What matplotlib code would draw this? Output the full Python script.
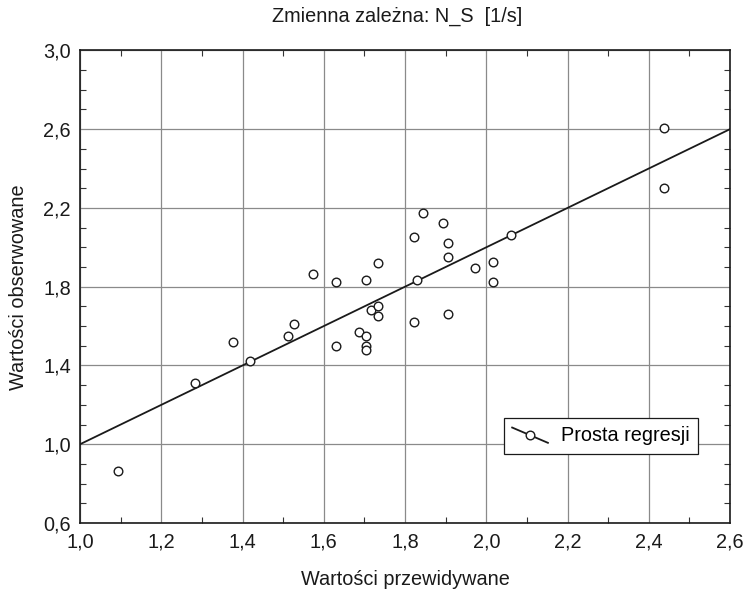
import matplotlib
matplotlib.use("Agg")
import matplotlib.pyplot as plt
from matplotlib.lines import Line2D
from matplotlib.legend_handler import HandlerBase
from matplotlib.ticker import MultipleLocator, FixedLocator, FuncFormatter

plt.rcParams['font.family'] = ['Liberation Sans', 'DejaVu Sans']

predicted = [1.094, 1.283, 1.376, 1.419, 1.512, 1.527, 1.574, 1.630, 1.630,
             1.686, 1.703, 1.703, 1.703, 1.703, 1.716, 1.733, 1.733, 1.733,
             1.822, 1.822, 1.829, 1.844, 1.894, 1.907, 1.907, 1.907, 1.972,
             2.016, 2.016, 2.060, 2.4375, 2.4375]
observed = [0.864, 1.312, 1.521, 1.423, 1.550, 1.613, 1.863, 1.822, 1.501,
            1.572, 1.832, 1.550, 1.501, 1.481, 1.684, 1.922, 1.704, 1.652,
            2.051, 1.621, 1.832, 2.173, 2.122, 2.024, 1.953, 1.662, 1.893,
            1.924, 1.822, 2.064, 2.604, 2.300]
line_x = [1.0, 2.6]
line_y = [1.0, 2.6]
x_ticks = [1.0, 1.2, 1.4, 1.6, 1.8, 2.0, 2.2, 2.4, 2.6]
y_ticks = [0.6, 1.0, 1.4, 1.8, 2.2, 2.6, 3.0]

title = "Zmienna zależna: N_S  [1/s]"
xlabel = "Wartości przewidywane"
ylabel = "Wartości obserwowane"
legend_label = "Prosta regresji"

FS = 14.3

fig = plt.figure(figsize=(7.45, 5.89), dpi=100)
ax = fig.add_axes([0.1074, 0.112, 0.8725, 0.8025])

ax.plot(line_x, line_y, color='#1a1a1a', lw=1.3, zorder=3)
ax.plot(predicted, observed, linestyle='none', marker='o', markersize=6.2,
        markerfacecolor='white', markeredgecolor='#1a1a1a', markeredgewidth=1.0, zorder=4)

ax.set_xlim(1.0, 2.6)
ax.set_ylim(0.6, 3.0)
ax.xaxis.set_major_locator(FixedLocator(x_ticks))
ax.yaxis.set_major_locator(FixedLocator(y_ticks))
ax.xaxis.set_minor_locator(MultipleLocator(0.1))
ax.yaxis.set_minor_locator(MultipleLocator(0.1))
fmt = FuncFormatter(lambda v, p: f"{v:.1f}".replace('.', ','))
ax.xaxis.set_major_formatter(fmt)
ax.yaxis.set_major_formatter(fmt)
ax.grid(True, which='major', color='#8a8a8a', lw=0.9)
ax.set_axisbelow(True)
ax.tick_params(which='major', length=0, labelsize=FS, colors='#1a1a1a')
ax.tick_params(axis='y', which='major', pad=6.5)
ax.tick_params(axis='x', which='major', pad=7)
ax.tick_params(which='minor', direction='in', length=4, width=0.8,
               top=True, right=True, bottom=True, left=True, color='#333333')
for s in ax.spines.values():
    s.set_color('#1a1a1a')
    s.set_linewidth(1.2)

ax.set_xlabel(xlabel, fontsize=FS, labelpad=13, color='#1a1a1a')
ax.set_ylabel(ylabel, fontsize=FS, labelpad=11, color='#1a1a1a')
fig.text(0.5336, 0.9717, title, ha='center', va='center', fontsize=FS, color='#1a1a1a')


class DiagHandler(HandlerBase):
    def create_artists(self, legend, orig_handle, xdescent, ydescent,
                       width, height, fontsize, trans):
        x0, x1 = -xdescent, -xdescent + width
        y0, y1 = -ydescent + height * 1.0, -ydescent - height * 0.1
        ln = Line2D([x0, x1], [y0, y1], color='#1a1a1a', lw=1.3, transform=trans)
        mk = Line2D([(x0 + x1) / 2], [(y0 + y1) / 2], linestyle='none', marker='o',
                    markersize=6.2, markerfacecolor='white', markeredgecolor='#1a1a1a',
                    markeredgewidth=1.0, transform=trans)
        return [ln, mk]


proxy = Line2D([], [])
leg = ax.legend([proxy], [legend_label], handler_map={Line2D: DiagHandler()},
                loc='upper left', bbox_to_anchor=(0.652, 0.222),
                fontsize=FS, fancybox=False, framealpha=1,
                edgecolor='#1a1a1a', handlelength=1.8, handletextpad=0.67,
                borderpad=0.42, borderaxespad=0)
leg.get_frame().set_linewidth(0.9)

fig.savefig("out.png", dpi=100)
